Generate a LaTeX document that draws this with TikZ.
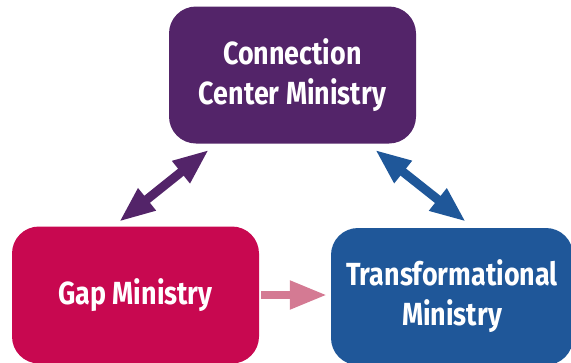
\documentclass[tikz,border=0pt]{standalone}
\usepackage{fontspec}
\newfontfamily\boxfont[FakeStretch=0.84]{Fira Sans}
\usetikzlibrary{arrows.meta,calc}
\definecolor{ccpurple}{RGB}{83,36,105}
\definecolor{gapred}{RGB}{200,8,80}
\definecolor{trblue}{RGB}{31,87,153}
\definecolor{gappink}{RGB}{212,122,147}

\begin{document}
\begin{tikzpicture}[line join=round,x=1pt,y=-1pt,
    ministry/.style={rounded corners=27pt,minimum width=247pt,minimum height=137pt,inner sep=0pt,
        text=white,align=center,font=\boxfont\bfseries\fontsize{32}{40}\selectfont},
    link/.style={line width=9pt,line cap=butt,>={Triangle[length=36pt,width=26pt]}}]

    \useasboundingbox (0,0) rectangle (571,362);
    \clip (0,0) rectangle (571,362);

    \node[ministry,fill=ccpurple] (connect) at (292.5,75) {Connection\\Center Ministry};
    \node[ministry,fill=gapred] (gap) at (135.5,295) {Gap Ministry};
    \node[ministry,fill=trblue,minimum width=242pt] (transform) at (452,296.5) {Transformational\\Ministry};

    \draw[link,<->,ccpurple] ($(connect.south)+(-83.5,6)$) -- ($(gap.north)+(-16.5,-4.5)$);
    \draw[link,<->,trblue] ($(connect.south)+(82.5,6)$) -- ($(transform.north)+(14,-6)$);
    \draw[link,->,gappink,line width=8pt,>={Triangle[length=37pt,width=27pt]}]
        ($(gap.east)+(2,0)$) -- ($(transform.west)+(-4,-1.5)$);
\end{tikzpicture}
\end{document}
